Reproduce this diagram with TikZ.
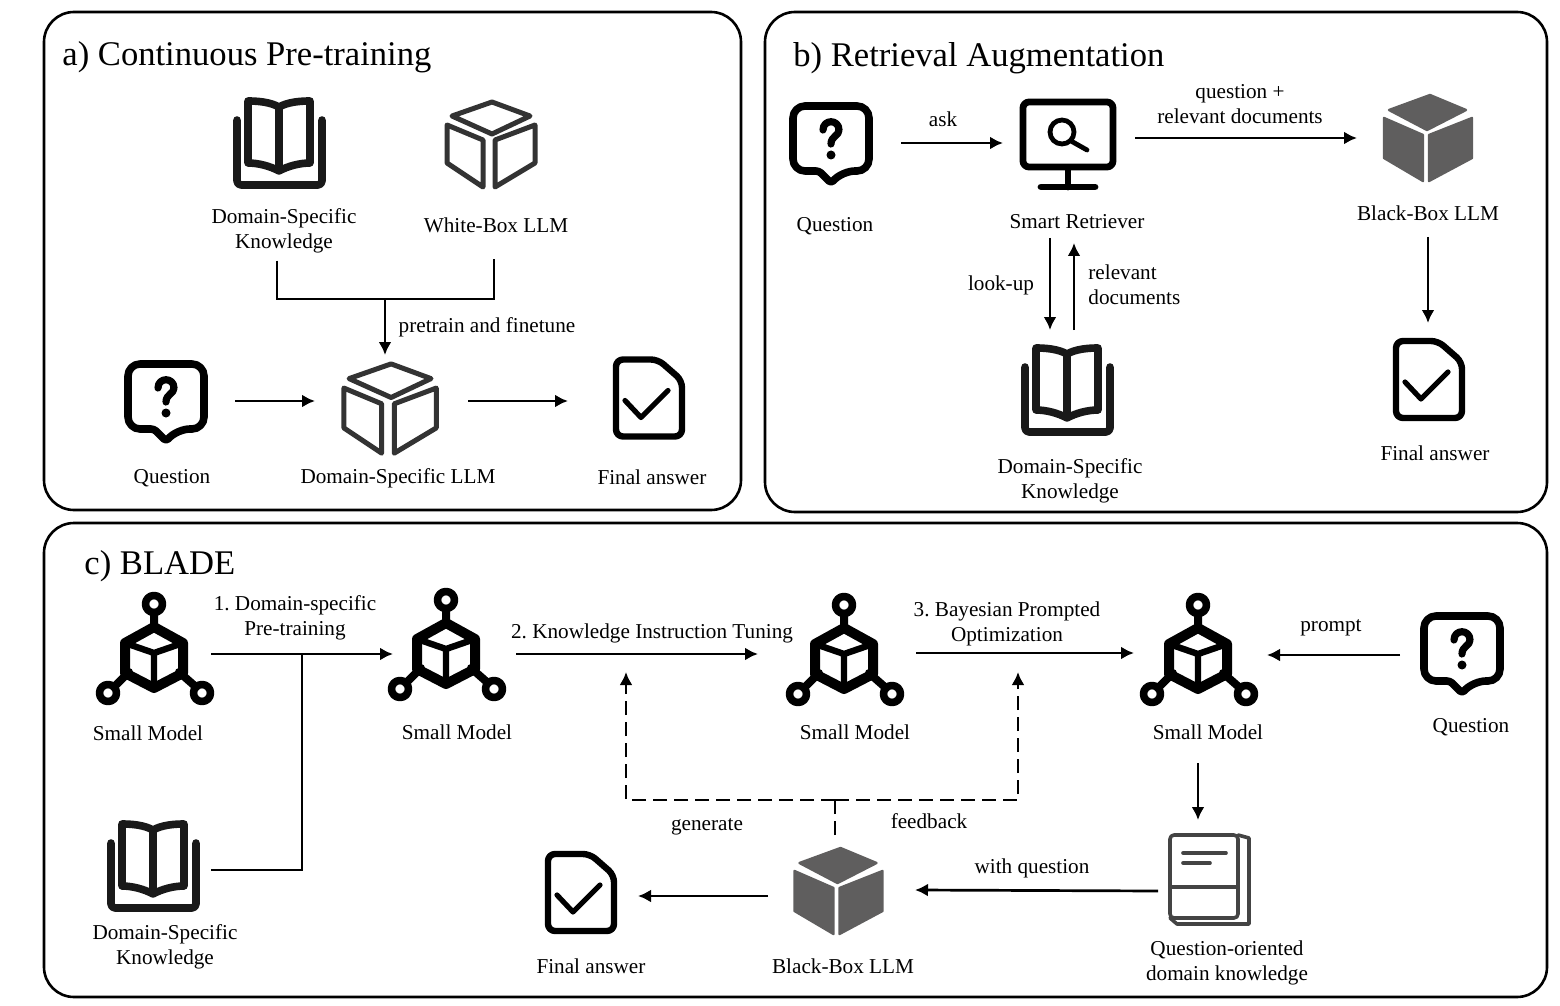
\documentclass[tikz,border=0pt]{standalone}
\usepackage{fontspec}
\setmainfont{Liberation Serif}
\usetikzlibrary{arrows.meta}
\definecolor{cubegray}{HTML}{5F5E5E}
\definecolor{cubeline}{HTML}{333333}
\definecolor{docline}{HTML}{444444}
\frenchspacing
\tikzset{
    ink/.style={line width=#1,line cap=round,line join=round},
    lbl/.style={inner sep=0pt,align=center,font=\fontsize{10.6}{12.5}\selectfont},
    ttl/.style={inner sep=0pt,anchor=west,font=\fontsize{17.3}{20}\selectfont},
    iconbox/.style 2 args={minimum width=#1pt,minimum height=#2pt,inner sep=0pt,outer sep=0pt},
    panel/.style={line width=1.3pt,rounded corners=15pt},
    conn/.style={line width=1.35pt},
    arr/.style={conn,-{Latex[length=6.5pt,width=6.5pt]}},
    dasharr/.style={arr,dash pattern=on 7pt off 3.5pt},
    bookicon/.pic={
        \draw[ink=3.8pt,black!90,rounded corners=2pt] (-43,-23) -- (-43,42) -- (42,42) -- (42,-23);
        \draw[ink=3.8pt,black!90] (-1,-36) .. controls (-10,-41) and (-22,-42) .. (-32,-42) -- (-32,20)
            .. controls (-22,20) and (-10,23) .. (-1,28) .. controls (8,23) and (20,20) .. (30,20) -- (30,-42)
            .. controls (20,-42) and (8,-41) .. (-1,-36) -- cycle (-1,-36) -- (-1,28);
    },
    wcube/.pic={
        \draw[ink=2.5pt,cubeline] (2,-42) -- (40,-28) -- (2,-10) -- (-38,-28) -- cycle;
        \draw[ink=2.5pt,cubeline] (-43,-19) -- (-7,-4) -- (-7,43) -- (-43,19) -- cycle;
        \draw[ink=2.5pt,cubeline] (45,-19) -- (5,-4) -- (5,43) -- (45,19) -- cycle;
    },
    bcube/.pic={
        \fill[cubegray,draw=cubegray,line join=round,line width=1.2pt] (2,-43) -- (38,-28) -- (-1,-8) -- (-39,-28) -- cycle;
        \fill[cubegray,draw=cubegray,line join=round,line width=1.2pt] (-44,-20) -- (-5,-3) -- (-5,43) -- (-44,20) -- cycle;
        \fill[cubegray,draw=cubegray,line join=round,line width=1.2pt] (44,-20) -- (1,-3) -- (1,43) -- (44,20) -- cycle;
    },
    qicon/.pic={
        \draw[ink=3.8pt,rounded corners=6pt] (-12,28) -- (-38,28) -- (-38,-37) -- (38,-37) -- (38,28)
            -- (12,28) [rounded corners=1.5pt] -- (0,40) -- cycle;
        \draw[ink=3.6pt] (-8,-13) .. controls (-8,-24) and (8,-24) .. (8,-13)
            .. controls (8,-7) and (0,-7) .. (0,1);
        \fill (0,12) circle (4.5);
    },
    ansicon/.pic={
        \draw[ink=3.2pt,rounded corners=3.5pt] (-33,-38.5) -- (9,-38.5) -- (33,-17.5) -- (33,38.5)
            -- (-33,38.5) -- cycle;
        \draw[ink=2.6pt] (-24,2.5) -- (-8,19.5) -- (19,-7.5);
    },
    monicon/.pic={
        \draw[ink=3.4pt,rounded corners=3pt] (-45,-41) rectangle (45,24);
        \draw[ink=3.4pt] (0,27) -- (0,44) (-27,44) -- (27,44);
        \draw[ink=2.4pt] (-6,-11) circle (12) (3,-2) -- (19,7);
    },
    modelicon/.pic={
        \draw[ink=3.8pt] (0,-46) circle (8.5) (-46,43) circle (8.5) (48,43) circle (8.5);
        \draw[ink=4pt] (0,-37) -- (0,-23) (-40,37) -- (-25,22) (42,37) -- (25,22);
        \draw[ink=5pt] (0,-23) -- (29,-7) -- (29,23) -- (0,38) -- (-29,23) -- (-29,-7) -- cycle;
        \draw[ink=3.2pt] (-29,-7) -- (0,3) -- (29,-7) (0,3) -- (0,38);
    },
    docicon/.pic={
        \draw[ink=1.8pt,docline,rounded corners=2pt] (-39,-45) -- (29,-45) -- (29,38) -- (-39,38) -- cycle;
        \draw[ink=1.8pt,docline] (-39,7) -- (29,7);
        \draw[ink=1.8pt,docline] (29,-45) -- (40,-42) -- (40,44) -- (-32,44) -- (-39,38);
        \draw[ink=1.8pt,docline] (-26,-27) -- (17,-27) (-26,-17) -- (1,-17);
    },
}
\begin{document}
\begin{tikzpicture}[x=0.5pt,y=-0.5pt]
    \useasboundingbox (0,0) rectangle (1560,1006);
    \draw[panel] (44,12) rectangle (741,510);
    \draw[panel] (765,12) rectangle (1547,512);
    \draw[panel] (44,523) rectangle (1547,997);
    \node[ttl] (ta) at (62,57.5) {a) Continuous Pre-training};
    \node[ttl] (tb) at (793,58.5) {b) Retrieval Augmentation};
    \node[ttl] (tc) at (84,566.5) {c) BLADE};

    % a) pre-training
    \node[iconbox={47}{47}] (bka) at (280,143) {};
    \node[iconbox={47}{47}] (wba) at (490,144) {};
    \node[iconbox={69}{40}] (qa) at (166,401) {};
    \node[iconbox={76.5}{53}] (lma) at (391.5,408) {};
    \node[iconbox={81}{40}] (ansa) at (649,398) {};
    \pic at (280,143) {bookicon};
    \pic at (490,144) {wcube};
    \pic at (166,401) {qicon};
    \pic[scale=1.05] at (389,408) {wcube};
    \pic at (649,398) {ansicon};
    \node[lbl] (dska) at (284,231) {Domain-Specific\\Knowledge};
    \node[lbl] (lwb) at (496,225) {White-Box LLM};
    \node[lbl] (lpre) at (487,327) {pretrain and finetune};
    \node[lbl] (lqa) at (172,478) {Question};
    \node[lbl] (llm) at (398,478) {Domain-Specific LLM};
    \node[lbl] (lansa) at (652,477) {Final answer};
    \coordinate (ja) at (385,299);
    \draw[conn] ([shift={(-3.5pt,-3.5pt)}]dska.south) |- (ja) -| ([shift={(-1pt,-13pt)}]lwb.south);
    \draw[arr] (ja) -- (ja |- lma.north);
    \draw[arr] (qa.east) -- (qa -| lma.west);
    \draw[arr] (qa -| lma.east) -- (qa -| ansa.west);

    % b) retrieval
    \node[iconbox={70}{40}] (qb) at (831,143) {};
    \node[iconbox={66}{95}] (mon) at (1069,143) {};
    \node[iconbox={71}{99}] (bbb) at (1428,138) {};
    \node[iconbox={47}{60}] (bkb) at (1068,390) {};
    \node[iconbox={40}{56.5}] (ansb) at (1429,379.5) {};
    \pic at (831,143) {qicon};
    \pic at (1068,143) {monicon};
    \pic at (1428,138) {bcube};
    \pic at (1068,390) {bookicon};
    \pic at (1429,379.5) {ansicon};
    \node[lbl] (lqb) at (835,226) {Question};
    \node[lbl] (lask) at (943,119) {ask};
    \node[lbl] (lsr) at (1077,222) {Smart Retriever};
    \node[lbl] (lqr) at (1240,104.5) {question +\\relevant documents};
    \node[lbl] (lbbb) at (1428,213) {Black-Box LLM};
    \node[lbl] (lansb) at (1435,453) {Final answer};
    \node[lbl] (llook) at (1001,285) {look-up};
    \node[lbl,anchor=west,align=left] (lrd) at (1088,284.5) {relevant\\documents};
    \node[lbl] (dskb) at (1070,480.5) {Domain-Specific\\Knowledge};
    \draw[arr] (qb.east) -- (qb -| mon.west);
    \draw[arr] (mon.east |- bbb) -- (bbb.west);
    \draw[arr] (bbb.south) -- (bbb.south |- ansb.north);
    \draw[arr] ([xshift=-9.5pt]mon.south) -- ([xshift=-9pt]bkb.north);
    \draw[arr] ([xshift=3pt]bkb.north) -- ([shift={(2.5pt,-2.5pt)}]mon.south);

    % c) BLADE
    \node[iconbox={57}{50}] (sma) at (154,654) {};
    \node[iconbox={61.5}{50}] (smb) at (454.5,654) {};
    \node[iconbox={79}{50}] (smc) at (837,653) {};
    \node[iconbox={66.5}{108}] (smd) at (1200.5,655) {};
    \node[iconbox={62}{40}] (qc) at (1462,655) {};
    \node[iconbox={57}{47}] (bkc) at (154,870) {};
    \node[iconbox={57}{40}] (ansc) at (581,892.5) {};
    \node[iconbox={73.5}{55}] (bbc) at (841.5,890) {};
    \node[iconbox={51}{71}] (doc) at (1209,891) {};
    \pic at (154,650) {modelicon};
    \pic at (446,646) {modelicon};
    \pic at (844,651) {modelicon};
    \pic at (1198,651) {modelicon};
    \pic at (1462,653) {qicon};
    \pic at (154,866) {bookicon};
    \pic at (581,892.5) {ansicon};
    \pic at (838.5,891) {bcube};
    \pic at (1209,880) {docicon};
    \node[lbl] (lsa) at (148,733) {Small Model};
    \node[lbl] (lsb) at (457,732) {Small Model};
    \node[lbl] (lsc) at (855,732) {Small Model};
    \node[lbl] (lsd) at (1208,732) {Small Model};
    \node[lbl] (lone) at (295,617.5) {1. Domain-specific\\Pre-training};
    \node[lbl] (ltwo) at (652,633) {2. Knowledge Instruction Tuning};
    \node[lbl] (lthree) at (1007,624) {3. Bayesian Prompted\\Optimization};
    \node[lbl] (lprompt) at (1331,628) {prompt};
    \node[lbl] (lqc) at (1471,727) {Question};
    \node[lbl] (dskc) at (165,946.5) {Domain-Specific\\Knowledge};
    \node[lbl] (lgen) at (707,827) {generate};
    \node[lbl] (lfeed) at (929,821) {feedback};
    \node[lbl] (lwq) at (1032,868) {with question};
    \node[lbl] (lansc) at (591,966) {Final answer};
    \node[lbl] (lbbc) at (843,966) {Black-Box LLM};
    \node[lbl] (lqok) at (1227,962.5) {Question-oriented\\domain knowledge};
    \coordinate (jc) at (302,654);
    \coordinate (jd) at (835,800);
    \coordinate (fba) at (626,672);
    \coordinate (fbb) at (1018,672);
    \draw[arr] (sma.east) -- (sma -| smb.west);
    \draw[conn] (bkc.east) -| (jc);
    \draw[arr] (smb.east) -- (smb -| smc.west);
    \draw[arr] (smc.east) -- (smc -| smd.west);
    \draw[arr] (qc.west) -- (qc -| smd.east);
    \draw[arr] ([xshift=-1.25pt]smd.south) -- ([xshift=-1.25pt]smd.south |- doc.north);
    \draw[arr] (doc.west) -- (bbc.east);
    \draw[arr] ([yshift=-3pt]bbc.west) -- ([yshift=-3pt]bbc.west -| ansc.east);
    \draw[conn,dash pattern=on 7pt off 3.5pt] (jd |- bbc.north) -- (jd);
    \draw[dasharr] (jd) -| (fba);
    \draw[dasharr] (jd) -| (fbb);
\end{tikzpicture}
\end{document}
